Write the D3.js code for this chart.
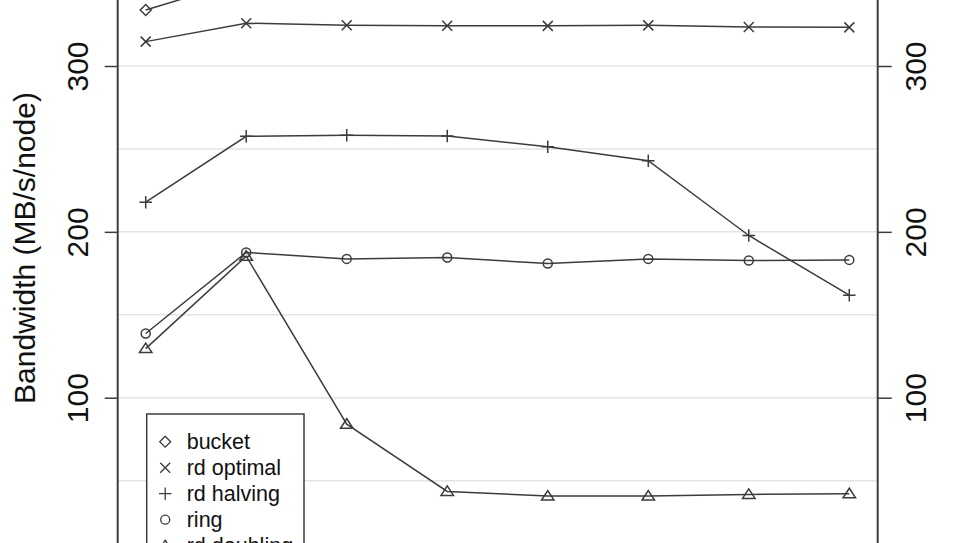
<!DOCTYPE html>
<html>
<head>
<meta charset="utf-8">
<script src="https://cdn.jsdelivr.net/npm/d3@7"></script>
<style>
  html, body { margin: 0; padding: 0; background: #fff; }
  svg { display: block; font-family: "Liberation Sans", Arial, Helvetica, sans-serif; }
</style>
</head>
<body>
<svg id="chart" width="965" height="543"></svg>
<script>
"use strict";

// x positions are run indices (the x axis itself is cropped out of the picture)
const runs = [1, 2, 3, 4, 5, 6, 7, 8]
const seriesNames = ['bucket', 'rd optimal', 'rd halving', 'ring', 'rd doubling']
const seriesSymbols = ['diamond', 'cross', 'plus', 'circle', 'triangle']

// bandwidth values, MB/s/node (bucket runs mostly above the visible area)
const bucket     = [333.8, 352, 362, 364, 365, 365, 366, 366]
const rdOptimal  = [314.7, 325.8, 324.6, 324.3, 324.2, 324.5, 323.5, 323.3]
const rdHalving  = [217.9, 257.6, 258.2, 257.8, 251.3, 242.9, 197.8, 161.8]
const ring       = [138.7, 187.6, 183.7, 184.5, 180.9, 183.7, 182.7, 183.1]
const rdDoubling = [129.6, 185.3, 84.0, 43.5, 40.7, 40.7, 41.7, 42.1]

const yTicks = [100, 200, 300]
const gridValues = [50, 100, 150, 200, 250, 300, 350]

const allSeries = [bucket, rdOptimal, rdHalving, ring, rdDoubling]

;(function() {
	const svg = d3.select('#chart')
	const W = 965, H = 543
	const axL = 117.7, axR = 877.7
	const ink = '#3c3c3c'

	const x = d3.scaleLinear().domain([1, 8]).range([145.7, 849.3])
	const y = d3.scaleLinear().domain([100, 300]).range([397.7, 66])

	// marker shapes, roughly like R's pch 5, 4, 3, 1, 2
	function symbolPath(type, s) {
		const h = s / 2
		if (type == 'diamond') return `M0,${-h*1.1}L${h*1.1},0L0,${h*1.1}L${-h*1.1},0Z`
		if (type == 'cross') return `M${-h},${-h}L${h},${h}M${-h},${h}L${h},${-h}`
		if (type == 'plus') { const p = h * 1.25; return `M${-p},0L${p},0M0,${-p}L0,${p}` }
		if (type == 'circle') return d3.arc()({innerRadius: 0, outerRadius: h * 0.9, startAngle: 0, endAngle: 2*Math.PI})
		if (type == 'triangle') return `M0,${-h*1.1}L${h*1.25},${h*0.8}L${-h*1.25},${h*0.8}Z`
	}

	// grid
	svg.append('g').selectAll('line')
		.data(gridValues)
		.enter().append('line')
		.attr('x1', axL).attr('x2', axR)
		.attr('y1', d => y(d)).attr('y2', d => y(d))
		.attr('stroke', '#e4e4e4')
		.attr('stroke-width', 1.5)

	// left axis
	const left = svg.append('g')
		.attr('transform', `translate(${axL},0)`)
		.call(d3.axisLeft(y).tickValues(yTicks).tickSize(13).tickSizeOuter(0))
	left.select('.domain').remove()
	left.selectAll('.tick line').attr('stroke', ink).attr('stroke-width', 1.5)
	left.selectAll('.tick text')
		.attr('x', null).attr('dy', null)
		.attr('transform', 'translate(-30,0) rotate(-90)')
		.attr('text-anchor', 'middle')
		.attr('font-size', 30)
		.attr('fill', '#111')

	// right axis
	const right = svg.append('g')
		.attr('transform', `translate(${axR},0)`)
		.call(d3.axisRight(y).tickValues(yTicks).tickSize(14).tickSizeOuter(0))
	right.select('.domain').remove()
	right.selectAll('.tick line').attr('stroke', ink).attr('stroke-width', 1.5)
	right.selectAll('.tick text')
		.attr('x', null).attr('dy', null)
		.attr('transform', 'translate(48,0) rotate(-90)')
		.attr('text-anchor', 'middle')
		.attr('font-size', 30)
		.attr('fill', '#111')

	// plot box sides
	svg.selectAll('.side').data([axL, axR]).enter().append('line')
		.attr('x1', d => d).attr('x2', d => d)
		.attr('y1', 0).attr('y2', H)
		.attr('stroke', ink).attr('stroke-width', 2)

	// y title
	svg.append('text')
		.attr('transform', 'translate(35,248) rotate(-90)')
		.attr('text-anchor', 'middle')
		.attr('font-size', 30)
		.attr('fill', '#111')
		.text('Bandwidth (MB/s/node)')

	// lines
	const line = d3.line().x((d, i) => x(runs[i])).y(d => y(d))
	const plot = svg.append('g')
	plot.selectAll('path.series')
		.data(allSeries)
		.enter().append('path')
		.attr('class', 'series')
		.attr('d', line)
		.attr('fill', 'none')
		.attr('stroke', ink)
		.attr('stroke-width', 1.5)

	// markers
	allSeries.forEach((vals, k) => {
		plot.append('g').selectAll('path')
			.data(vals)
			.enter().append('path')
			.attr('transform', (d, i) => `translate(${x(runs[i])},${y(d)})`)
			.attr('d', symbolPath(seriesSymbols[k], 10))
			.attr('fill', 'none')
			.attr('stroke', ink)
			.attr('stroke-width', 1.5)
	})

	// legend
	const lg = svg.append('g').attr('transform', 'translate(146.7,414)')
	lg.append('rect')
		.attr('width', 157.3).attr('height', 200)
		.attr('fill', '#fff')
		.attr('stroke', ink).attr('stroke-width', 1.5)
	const rows = lg.selectAll('g.row')
		.data(seriesNames)
		.enter().append('g')
		.attr('transform', (d, i) => `translate(0,${27.7 + i * 26})`)
	rows.append('path')
		.attr('transform', 'translate(18.5,0)')
		.attr('d', (d, i) => symbolPath(seriesSymbols[i], 10))
		.attr('fill', 'none')
		.attr('stroke', ink)
		.attr('stroke-width', 1.3)
	rows.append('text')
		.attr('x', 40)
		.attr('dy', '0.35em')
		.attr('font-size', 21.5)
		.attr('fill', '#111')
		.text(d => d)
})()
</script>
</body>
</html>
